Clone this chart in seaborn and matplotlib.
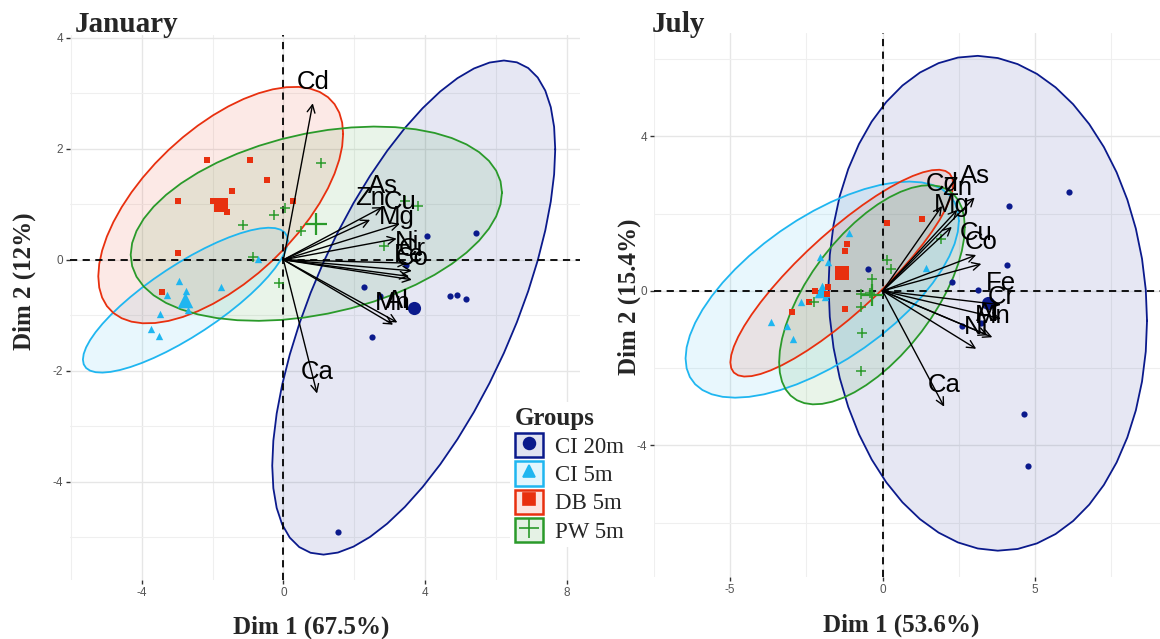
import numpy as np
import pandas as pd
import matplotlib
matplotlib.use('Agg')
import matplotlib.pyplot as plt
import seaborn as sns
from matplotlib.patches import Rectangle
from matplotlib.lines import Line2D
from matplotlib.legend_handler import HandlerTuple
from matplotlib.colors import to_rgba
from matplotlib.font_manager import FontProperties

# Groups and their styling
GROUPS = ['CI 20m', 'CI 5m', 'DB 5m', 'PW 5m']
COLORS = {'CI 20m': '#0b1a8c', 'CI 5m': '#1fb6f0',
          'DB 5m': '#e8300f', 'PW 5m': '#2a9a2a'}
MARKERS = {'CI 20m': 'o', 'CI 5m': '^', 'DB 5m': 's', 'PW 5m': '+'}
SIZES = {'CI 20m': 20, 'CI 5m': 28, 'DB 5m': 24, 'PW 5m': 55}

# January individuals (PCA scores)
jan_ci20_x = [4.07, 5.45, 3.47, 2.29, 4.71, 4.90, 5.16, 2.74, 2.50, 1.53]
jan_ci20_y = [0.43, 0.48, -0.09, -0.49, -0.66, -0.63, -0.70, -0.66, -1.39, -4.90]
jan_ci5_x = [-0.72, -2.96, -1.77, -3.30, -2.75, -3.48, -2.71, -3.74, -3.51]
jan_ci5_y = [0.01, -0.39, -0.49, -0.63, -0.56, -0.97, -0.90, -1.24, -1.38]
jan_db_x = [-2.15, -0.95, -0.45, -1.46, -2.99, -2.00, -1.59, 0.28, -2.98, -3.43]
jan_db_y = [1.80, 1.80, 1.43, 1.24, 1.05, 1.06, 0.86, 1.06, 0.13, -0.58]
jan_pw_x = [1.05, 0.04, -0.27, -1.13, 0.51, 2.83, -0.85, -0.12, 3.43, 3.81]
jan_pw_y = [1.74, 0.93, 0.81, 0.62, 0.52, 0.24, 0.05, -0.42, 1.05, 0.96]

# January variables (loadings)
jan_var_names = ['Cd', 'As', 'Zn', 'Cu', 'Mg', 'Ni', 'Cr', 'Fe', 'Co',
                 'Mn', 'Al', 'Ca']
jan_var_x = [0.83, 2.80, 2.45, 3.29, 3.20, 3.50, 3.63, 3.55, 3.63,
             3.10, 3.22, 0.95]
jan_var_y = [2.82, 0.95, 0.72, 0.65, 0.38, -0.06, -0.20, -0.30, -0.36,
             -1.17, -1.13, -2.41]

# July individuals (PCA scores)
jul_ci20_x = [6.12, 4.14, 4.09, -0.48, 2.26, 2.62, 3.22, 4.63, 4.77, 3.13]
jul_ci20_y = [2.56, 2.20, 0.68, 0.56, 0.24, -0.92, -0.82, -3.19, -4.53, 0.02]
jul_ci5_x = [-1.10, -2.06, -1.80, 1.43, -1.88, -2.69, -3.67, -3.13, -2.93]
jul_ci5_y = [1.49, 0.87, 0.76, 0.59, -0.17, -0.28, -0.81, -0.90, -1.25]
jul_db_x = [0.14, 1.28, -1.16, -1.22, -1.80, -2.21, -2.43, -2.96, -1.22, -1.82]
jul_db_y = [1.75, 1.86, 1.22, 1.04, 0.10, 0.00, -0.29, -0.54, -0.47, -0.07]
jul_pw_x = [0.15, 0.29, -0.36, -0.72, -0.42, -2.24, -0.72, -0.66, -0.72, 1.90]
jul_pw_y = [0.80, 0.56, 0.30, -0.08, -0.06, -0.29, -0.41, -1.10, -2.07, 1.35]

# July variables (loadings)
jul_var_names = ['As', 'Cd', 'Zn', 'Mg', 'Cu', 'Co', 'Fe', 'Cr', 'Al',
                 'Mn', 'Ni', 'Ca']
jul_var_x = [3.02, 1.95, 2.45, 2.27, 3.07, 3.24, 3.88, 3.88, 3.45,
             3.60, 3.07, 2.02]
jul_var_y = [2.42, 2.20, 2.10, 1.66, 0.93, 0.70, -0.36, -0.72, -1.15,
             -1.20, -1.50, -3.00]

SERIF = 'Liberation Serif'
SANS = 'Liberation Sans'

sns.set_theme(style='white')
plt.rcParams['font.family'] = [SANS, 'DejaVu Sans']
plt.rcParams['axes.unicode_minus'] = False


def make_df(xs, ys):
    frames = []
    for g, x, y in zip(GROUPS, xs, ys):
        frames.append(pd.DataFrame({'Dim1': x, 'Dim2': y, 'Group': g}))
    return pd.concat(frames, ignore_index=True)


def norm_ellipse(x, y, level=0.95, segments=51):
    # same as ggplot2 stat_ellipse(type = "norm")
    pts = np.column_stack([x, y])
    n = len(pts)
    center = pts.mean(axis=0)
    cov = np.cov(pts, rowvar=False)
    dfd = n - 1
    qf = dfd / 2 * ((1 - level) ** (-2 / dfd) - 1)
    radius = np.sqrt(2 * qf)
    t = np.linspace(0, 2 * np.pi, segments)
    circle = np.column_stack([np.cos(t), np.sin(t)])
    chol = np.linalg.cholesky(cov).T
    ell = center + radius * circle @ chol
    return ell[:, 0], ell[:, 1]


def draw_panel(ax, df, var_names, var_x, var_y, xlim, ylim,
               xmajor, xminor, ymajor, yminor, xlabel, ylabel):
    ax.set_xlim(xlim)
    ax.set_ylim(ylim)
    ax.set_xticks(xmajor)
    ax.set_xticks(xminor, minor=True)
    ax.set_yticks(ymajor)
    ax.set_yticks(yminor, minor=True)
    ax.grid(which='major', color='#e6e6e6', lw=1.0, zorder=0)
    ax.grid(which='minor', color='#efefef', lw=0.8, zorder=0)
    ax.set_axisbelow(True)
    for s in ax.spines.values():
        s.set_visible(False)
    ax.tick_params(which='major', length=3, width=1, color='#333333',
                   labelcolor='#555555', labelsize=8.5, pad=2,
                   bottom=True, left=True)
    ax.tick_params(which='minor', length=0)

    # Ellipses
    for g in GROUPS:
        sub = df[df['Group'] == g]
        ex, ey = norm_ellipse(sub['Dim1'].values, sub['Dim2'].values)
        ax.fill(ex, ey, facecolor=COLORS[g], alpha=0.1, zorder=1)
        ax.plot(ex, ey, color=COLORS[g], lw=1.3, zorder=2)

    ax.axhline(0, color='black', lw=1.3, ls=(0, (4, 3)), zorder=3)
    ax.axvline(0, color='black', lw=1.3, ls=(0, (4, 3)), zorder=3)

    # Individuals and group means
    means = df.groupby('Group', sort=False)[['Dim1', 'Dim2']].mean()
    for g in GROUPS:
        sub = df[df['Group'] == g]
        lw = 1.1 if MARKERS[g] == '+' else 0
        sns.scatterplot(data=sub, x='Dim1', y='Dim2', color=COLORS[g],
                        marker=MARKERS[g], s=SIZES[g], linewidth=lw,
                        legend=False, ax=ax, zorder=4)
        sns.scatterplot(x=[means.loc[g, 'Dim1']], y=[means.loc[g, 'Dim2']],
                        color=COLORS[g], marker=MARKERS[g],
                        s=SIZES[g] * 4.5, linewidth=1.6 if lw else 0,
                        legend=False, ax=ax, zorder=4)

    # Variable arrows
    for name, vx, vy in zip(var_names, var_x, var_y):
        ax.annotate('', xy=(vx, vy), xytext=(0, 0),
                    arrowprops=dict(arrowstyle='->', color='black', lw=1.0,
                                    shrinkA=0, shrinkB=0, mutation_scale=14),
                    zorder=5)
        ax.annotate(name, xy=(vx, vy), xytext=(0, 15.5),
                    textcoords='offset points', ha='center', va='center',
                    fontsize=18.5, family=SANS, color='black', zorder=6)

    ax.set_xlabel(xlabel, fontsize=18, weight='bold', family=SERIF)
    ax.set_ylabel(ylabel, fontsize=18, weight='bold', family=SERIF)


fig = plt.figure(figsize=(11.6, 6.39), dpi=100)
W, H = 1160, 639
ax1 = fig.add_axes([70 / W, 59 / H, 510 / W, 545 / H])
ax2 = fig.add_axes([654 / W, 62 / H, 506 / W, 544 / H])

jan_df = make_df([jan_ci20_x, jan_ci5_x, jan_db_x, jan_pw_x],
                 [jan_ci20_y, jan_ci5_y, jan_db_y, jan_pw_y])
jul_df = make_df([jul_ci20_x, jul_ci5_x, jul_db_x, jul_pw_x],
                 [jul_ci20_y, jul_ci5_y, jul_db_y, jul_pw_y])

draw_panel(ax1, jan_df, jan_var_names, jan_var_x, jan_var_y,
           (-6.03, 8.38), (-5.77, 4.05),
           [-4, 0, 4, 8], [-6, -2, 2, 6], [-4, -2, 0, 2, 4], [-5, -3, -1, 1, 3],
           'Dim 1 (67.5%)', 'Dim 2 (12%)')
draw_panel(ax2, jul_df, jul_var_names, jul_var_x, jul_var_y,
           (-7.23, 9.10), (-7.41, 6.68),
           [-5, 0, 5], [-7.5, -2.5, 2.5, 7.5], [-4, 0, 4], [-6, -2, 2, 6],
           'Dim 1 (53.6%)', 'Dim 2 (15.4%)')

ax1.xaxis.set_label_coords(0.473, -0.065)
ax1.yaxis.set_label_coords(-0.066, 0.549)
ax2.xaxis.set_label_coords(0.488, -0.067)
ax2.yaxis.set_label_coords(-0.026, 0.515)

# Legend with boxed keys
handles = []
for g in GROUPS:
    box = Rectangle((0, 0), 1, 1, facecolor=to_rgba(COLORS[g], 0.12),
                    edgecolor=COLORS[g], lw=1.8)
    mk = Line2D([], [], ls='', marker=MARKERS[g], color=COLORS[g],
                ms=8.5 if MARKERS[g] != '+' else 14, mew=1.2)
    handles.append((box, mk))
leg = ax1.legend(handles, GROUPS,
                 handler_map={tuple: HandlerTuple(ndivide=1, pad=0)},
                 title='Groups', loc='upper left',
                 bbox_to_anchor=(510 / W, 1 - 402 / H),
                 bbox_transform=fig.transFigure,
                 frameon=True, framealpha=1, facecolor='white',
                 edgecolor='none', fancybox=False, borderpad=0.2,
                 borderaxespad=0, handlelength=1.25, handleheight=1.25,
                 handletextpad=0.5, labelspacing=0.15, alignment='left',
                 prop=FontProperties(family=SERIF, size=16.5),
                 title_fontproperties=FontProperties(family=SERIF,
                                                     weight='bold', size=18))
leg.set_zorder(10)

fig.text(75 / W, 1 - 25 / H, 'January', fontsize=21, weight='bold',
         family=SERIF, ha='left', va='center')
fig.text(652 / W, 1 - 25 / H, 'July', fontsize=21, weight='bold',
         family=SERIF, ha='left', va='center')

fig.savefig('out.png', dpi=100)
plt.close()
